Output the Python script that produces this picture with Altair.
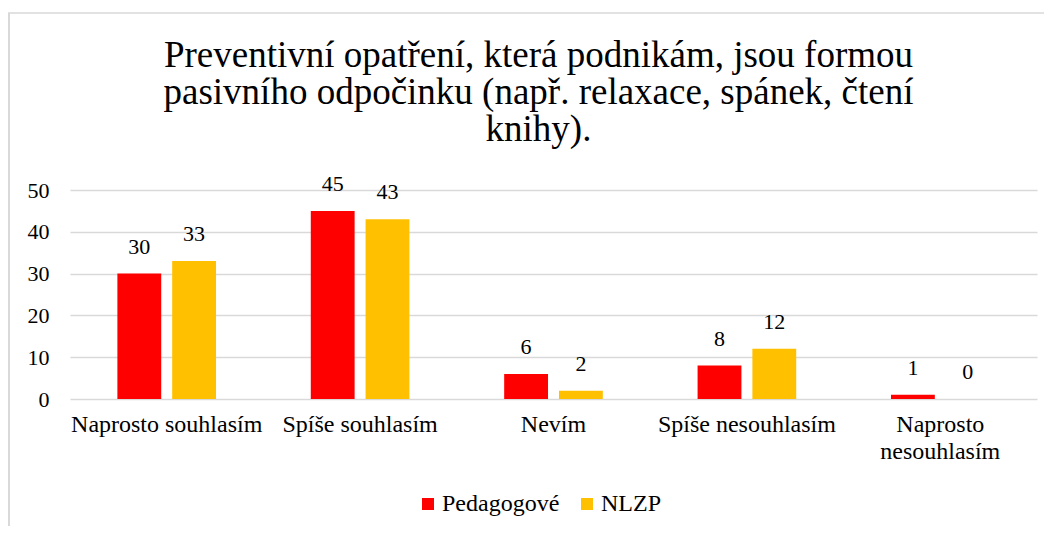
import altair as alt
import pandas as pd

categories = ["Naprosto souhlasím", "Spíše souhlasím", "Nevím", "Spíše nesouhlasím", "Naprosto nesouhlasím"]
series = ["Pedagogové", "NLZP"]
pedagogove = [30, 45, 6, 8, 1]
nlzp = [33, 43, 2, 12, 0]
y_ticks = [0, 10, 20, 30, 40, 50]
title_lines = ["Preventivní opatření, která podnikám, jsou formou",
               "pasivního odpočinku (např. relaxace, spánek, čtení",
               "knihy)."]
colors = ["#FF0000", "#FFC000"]

rows = []
for c, a, b in zip(categories, pedagogove, nlzp):
    rows.append({"cat": c, "series": series[0], "value": a})
    rows.append({"cat": c, "series": series[1], "value": b})
df = pd.DataFrame(rows)

FONT = "Liberation Serif"

base = alt.Chart(df).encode(
    x=alt.X("cat:N", sort=categories,
            scale=alt.Scale(paddingInner=0.49, paddingOuter=0.245),
            axis=alt.Axis(title=None, labelAngle=0, ticks=False, domain=False, grid=False,
                          labelFontSize=24, labelFont=FONT, labelColor="#000000",
                          labelLimit=400, labelPadding=13, labelLineHeight=27,
                          labelExpr="datum.label == 'Naprosto nesouhlasím' ? ['Naprosto', 'nesouhlasím'] : datum.label")),
    xOffset=alt.XOffset("series:N", sort=series,
                        scale=alt.Scale(paddingInner=0.2, paddingOuter=0)),
)

bars = base.mark_bar().encode(
    y=alt.Y("value:Q", scale=alt.Scale(domain=[0, 50]),
            axis=alt.Axis(values=y_ticks, title=None, ticks=False, domain=False,
                          gridColor="#d9d9d9", gridWidth=1.5,
                          labelFontSize=22, labelFont=FONT, labelColor="#000000",
                          labelPadding=21)),
    color=alt.Color("series:N", sort=series,
                    scale=alt.Scale(domain=series, range=colors),
                    legend=alt.Legend(title=None, orient="none", direction="horizontal",
                                      legendX=346, legendY=302,
                                      symbolType="square", symbolSize=144,
                                      symbolStrokeWidth=0,
                                      labelFontSize=24, labelFont=FONT, labelColor="#000000",
                                      labelOffset=2, columnPadding=15)),
)

labels = base.mark_text(baseline="bottom", dy=-15, fontSize=22, font=FONT, color="#000000").encode(
    y="value:Q",
    text="value:Q",
)

frame_df = pd.DataFrame({"k": [0]})
frame_top = alt.Chart(frame_df).mark_rule(color="#d9d9d9", strokeWidth=1.5).encode(
    x=alt.value(-62), x2=alt.value(974), y=alt.value(-177))
frame_left = alt.Chart(frame_df).mark_rule(color="#d9d9d9", strokeWidth=2).encode(
    x=alt.value(-61), y=alt.value(-177), y2=alt.value(336))

chart = alt.layer(frame_top, frame_left, bars, labels).properties(
    width=967, height=209,
    autosize=alt.AutoSizeParams(type="none"),
    padding={"left": 62, "top": 182, "right": 7, "bottom": 127},
    title=alt.TitleParams(text=title_lines, font=FONT, fontSize=37, fontWeight="normal",
                          color="#000000", anchor="middle", dx=-15, lineHeight=37, offset=-137),
).configure_view(stroke=None)

chart.save("out.html", embed_options={"renderer": "svg", "actions": False})
